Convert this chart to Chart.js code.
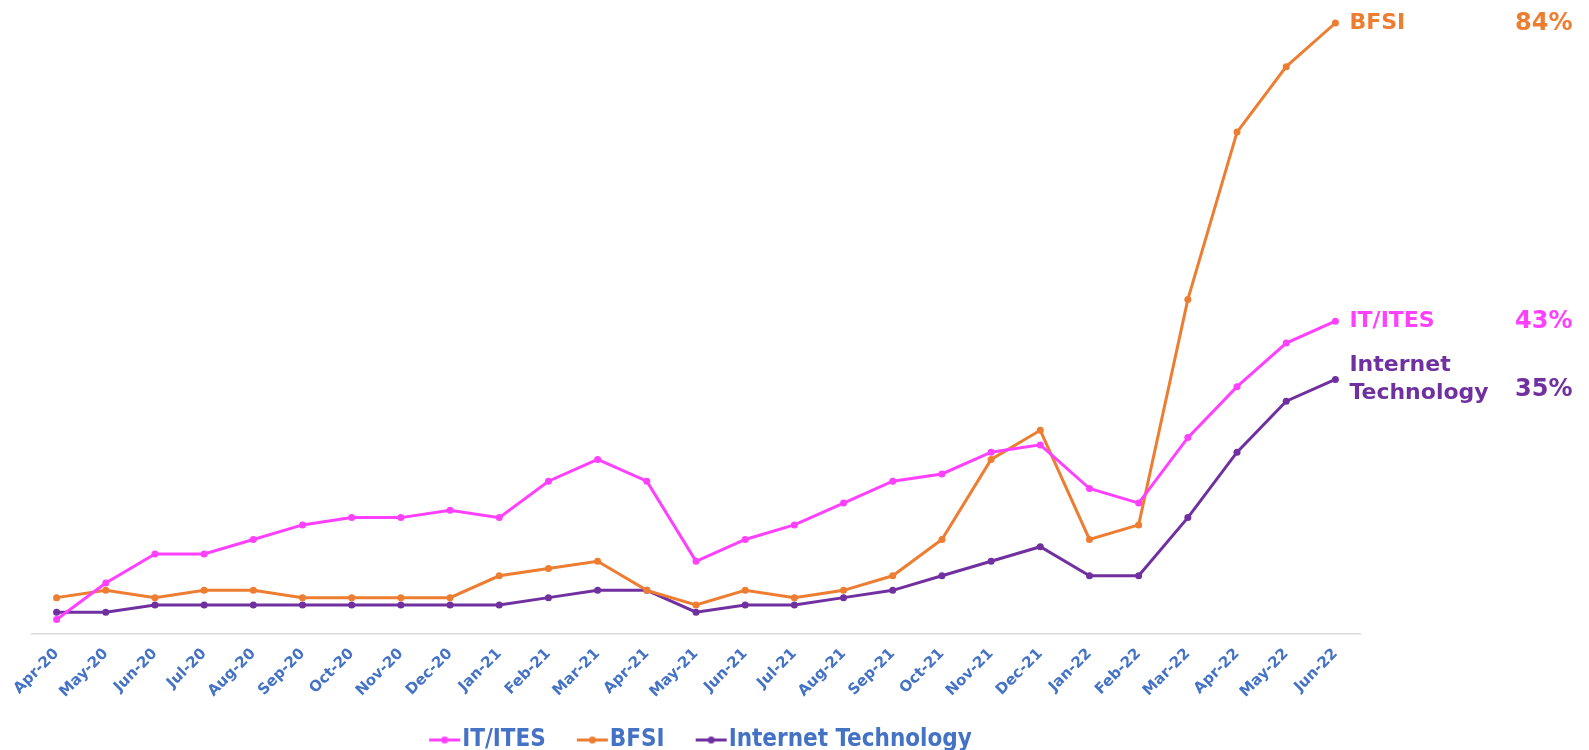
<!DOCTYPE html>
<html>
<head>
<meta charset="utf-8">
<script src="https://cdn.jsdelivr.net/npm/chart.js@4/dist/chart.umd.min.js"></script>
<style>
  html, body { margin: 0; padding: 0; background: #fff; }
  canvas { display: block; }
</style>
</head>
<body>
<canvas id="trendChart" width="1589" height="750"></canvas>
<script>
// Months on the x axis
const months = ['Apr-20', 'May-20', 'Jun-20', 'Jul-20', 'Aug-20', 'Sep-20', 'Oct-20', 'Nov-20', 'Dec-20',
    'Jan-21', 'Feb-21', 'Mar-21', 'Apr-21', 'May-21', 'Jun-21', 'Jul-21', 'Aug-21', 'Sep-21', 'Oct-21',
    'Nov-21', 'Dec-21', 'Jan-22', 'Feb-22', 'Mar-22', 'Apr-22', 'May-22', 'Jun-22'];

// Series values (%)
const itItes = [2, 7, 11, 11, 13, 15, 16, 16, 17, 16, 21, 24, 21, 10, 13, 15, 18, 21, 22, 25, 26, 20, 18, 27, 34, 40, 43];
const bfsi = [5, 6, 5, 6, 6, 5, 5, 5, 5, 8, 9, 10, 6, 4, 6, 5, 6, 8, 13, 24, 28, 13, 15, 46, 69, 78, 84];
const internetTech = [3, 3, 4, 4, 4, 4, 4, 4, 4, 4, 5, 6, 6, 3, 4, 4, 5, 6, 8, 10, 12, 8, 8, 16, 25, 32, 35];

const seriesNames = ['IT/ITES', 'BFSI', 'Internet Technology'];
const seriesColors = ['#FF40FF', '#ED7D31', '#7030A0'];

// Text written at the end of each line
const endNames = [['IT/ITES'], ['BFSI'], ['Internet', 'Technology']];
const endValues = ['43%', '84%', '35%'];

const axisBlue = '#4472C4';

// "line with a dot" icons for the legend; drawn off-centre in a wider
// canvas so the icon ends right before the text
function makeLegendIcon(color) {
    const c = document.createElement('canvas');
    c.width = 52;
    c.height = 9;
    const g = c.getContext('2d');
    g.strokeStyle = color;
    g.lineWidth = 3;
    g.beginPath();
    g.moveTo(20, 4.5);
    g.lineTo(51, 4.5);
    g.stroke();
    g.fillStyle = color;
    g.beginPath();
    g.arc(35.5, 4.5, 3.5, 0, Math.PI * 2);
    g.fill();
    return c;
}
const legendIcons = seriesColors.map(makeLegendIcon);

// draws the names and the last values to the right of the lines
const endLabelPlugin = {
    id: 'endLabels',
    afterDatasetsDraw(chart) {
        const ctx = chart.ctx;
        const valueX = chart.chartArea.right + 155;
        chart.data.datasets.forEach((ds, i) => {
            const meta = chart.getDatasetMeta(i);
            const pt = meta.data[meta.data.length - 1];
            const lines = endNames[i];
            ctx.save();
            ctx.fillStyle = ds.borderColor;
            ctx.textBaseline = 'middle';
            ctx.textAlign = 'left';
            ctx.font = 'bold 22px "DejaVu Sans"';
            lines.forEach((t, k) => {
                ctx.fillText(t, pt.x + 14, pt.y + (k - (lines.length - 1) / 2) * 28);
            });
            // value sits a bit lower when the name takes two lines
            ctx.font = 'bold 24px "DejaVu Sans"';
            ctx.fillText(endValues[i], valueX, pt.y + 1 + (lines.length - 1) * 9);
            ctx.restore();
        });
    }
};

const datasets = [itItes, bfsi, internetTech].map((values, i) => ({
    label: seriesNames[i],
    data: values,
    borderColor: seriesColors[i],
    backgroundColor: seriesColors[i],
    borderWidth: 3,
    pointRadius: 3.5,
    pointHoverRadius: 3.5,
    pointBorderWidth: 0,
    tension: 0,
    clip: false
}));

const ctx = document.getElementById('trendChart').getContext('2d');
const trendChart = new Chart(ctx, {
    type: 'line',
    data: {
        labels: months,
        datasets: datasets
    },
    options: {
        responsive: false,
        animation: false,
        layout: {
            padding: { left: 32, right: 229, top: 23, bottom: -12 }
        },
        scales: {
            x: {
                offset: true,
                grid: { display: false, drawTicks: false },
                border: { display: true, color: '#D9D9D9', width: 1.5 },
                ticks: {
                    autoSkip: false,
                    maxRotation: 45,
                    minRotation: 45,
                    padding: 11,
                    color: axisBlue,
                    font: { family: '"DejaVu Sans"', size: 15, weight: 'bold' }
                },
                afterFit(scale) {
                    scale.height = 72;
                }
            },
            y: {
                display: false,
                min: 0,
                max: 84
            }
        },
        plugins: {
            legend: {
                display: true,
                position: 'bottom',
                labels: {
                    usePointStyle: true,
                    pointStyleWidth: 30,
                    padding: 22,
                    color: axisBlue,
                    font: { family: '"Liberation Sans Narrow", "DejaVu Sans Condensed", sans-serif', size: 24, weight: 'bold' },
                    generateLabels(chart) {
                        return chart.data.datasets.map((ds, i) => ({
                            text: ds.label,
                            pointStyle: legendIcons[i],
                            fontColor: axisBlue,
                            fillStyle: ds.borderColor,
                            strokeStyle: ds.borderColor,
                            lineWidth: 0,
                            hidden: false,
                            datasetIndex: i
                        }));
                    }
                }
            },
            tooltip: { enabled: false }
        }
    },
    plugins: [endLabelPlugin]
});
</script>
</body>
</html>
